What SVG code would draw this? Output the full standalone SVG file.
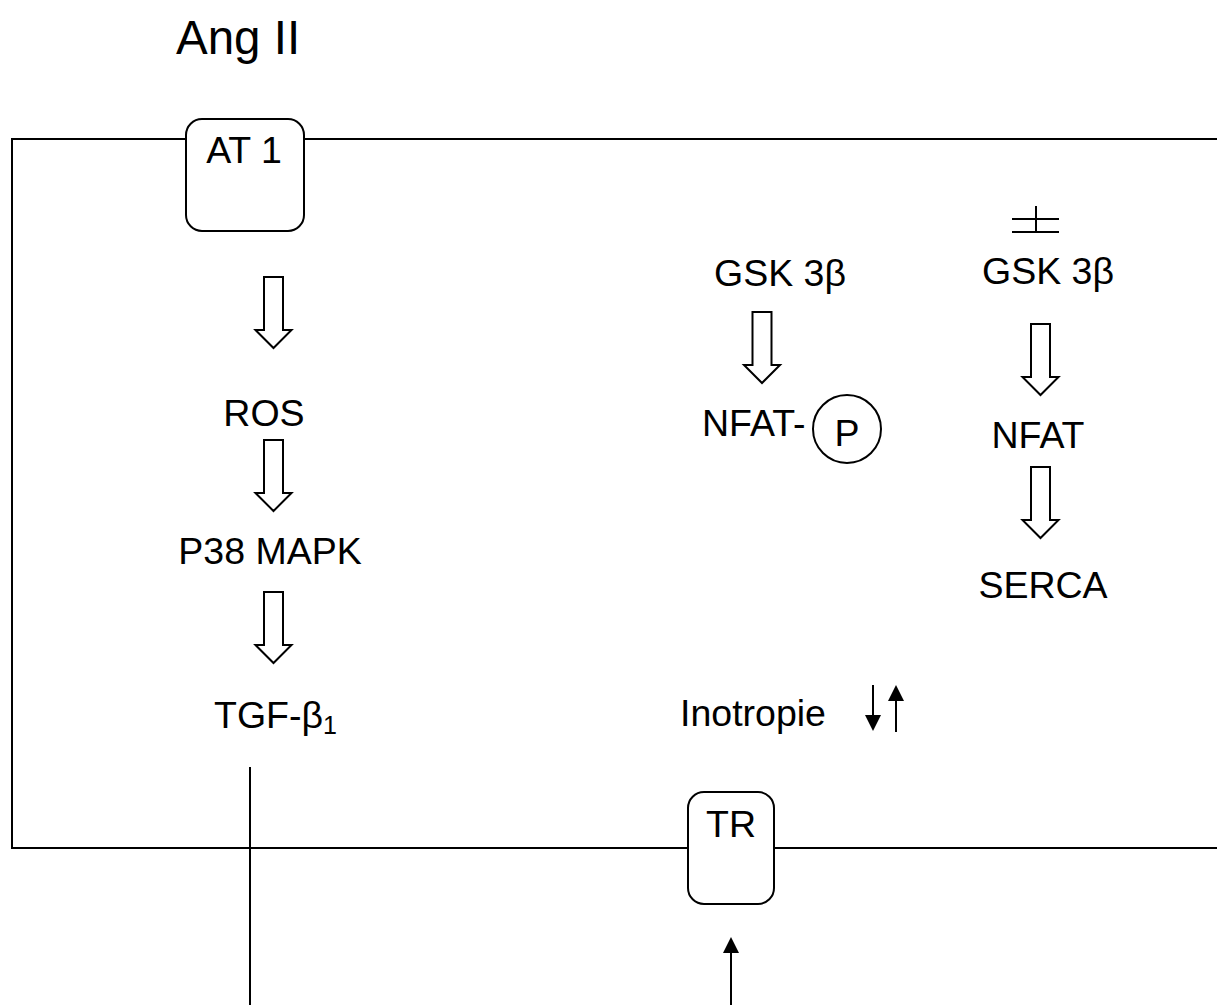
<svg xmlns="http://www.w3.org/2000/svg" xmlns:xlink="http://www.w3.org/1999/xlink" width="1217" height="1005" viewBox="0 0 1217 1005">
<style>
.t{font-family:"Liberation Sans",Arial,sans-serif;font-size:37.5px;fill:#000}
.ln{stroke:#000;stroke-width:2;fill:none}
.box{stroke:#000;stroke-width:2;fill:#fff}
.ba{stroke:#000;stroke-width:2;fill:#fff;stroke-linejoin:miter}
</style>
<defs>
<path id="blk" d="M-9.5,0 H9.5 V53 H18 L0,71 L-18,53 H-9.5 Z"/>
<marker id="ah" markerWidth="16" markerHeight="16" refX="8" refY="8" orient="auto" markerUnits="userSpaceOnUse">
<path d="M0,0 L16,8 L0,16 Z" fill="#000"/>
</marker>
</defs>
<rect width="1217" height="1005" fill="#fff"/>
<g id="cell">
<path class="ln" d="M1217,139 H12 V848 H1217"/>
</g>
<g id="connectors">
<use xlink:href="#blk" class="ba" transform="translate(273.5,277)"/>
<use xlink:href="#blk" class="ba" transform="translate(273.5,440)"/>
<use xlink:href="#blk" class="ba" transform="translate(273.5,592)"/>
<use xlink:href="#blk" class="ba" transform="translate(762,312)"/>
<use xlink:href="#blk" class="ba" transform="translate(1040.5,324)"/>
<use xlink:href="#blk" class="ba" transform="translate(1040.5,467)"/>
<line class="ln" x1="250" y1="767" x2="250" y2="1005"/>
<line class="ln" x1="731" y1="1005" x2="731" y2="945" marker-end="url(#ah)"/>
<line class="ln" x1="873" y1="685" x2="873" y2="723" marker-end="url(#ah)"/>
<line class="ln" x1="896" y1="732" x2="896" y2="693" marker-end="url(#ah)"/>
<g id="inhibit">
<line class="ln" x1="1036" y1="206" x2="1036" y2="232"/>
<line class="ln" x1="1012" y1="219" x2="1059" y2="219"/>
<line class="ln" x1="1012" y1="232" x2="1059" y2="232"/>
</g>
</g>
<g id="angII"><text class="t" x="176" y="54" style="font-size:47.5px">Ang II</text></g>
<g id="AT1">
<rect class="box" x="186" y="119" width="118" height="112" rx="16"/>
<text class="t" x="244" y="163" text-anchor="middle">AT 1</text>
</g>
<g id="TR">
<rect class="box" x="688" y="792" width="86" height="112" rx="16"/>
<text class="t" x="731" y="837" text-anchor="middle">TR</text>
</g>
<g id="ROS"><text class="t" x="264" y="426" text-anchor="middle">ROS</text></g>
<g id="P38"><text class="t" x="270" y="564" text-anchor="middle">P38 MAPK</text></g>
<g id="TGF"><text class="t" x="214" y="728">TGF-β<tspan style="font-size:25px" dy="6">1</tspan></text></g>
<g id="GSK1"><text class="t" x="714" y="286">GSK 3β</text></g>
<g id="GSK2"><text class="t" x="982" y="284">GSK 3β</text></g>
<g id="NFATP">
<text class="t" x="702" y="436">NFAT-</text>
<circle class="ln" cx="847" cy="429" r="34"/>
<text class="t" x="847" y="446" text-anchor="middle">P</text>
</g>
<g id="NFAT"><text class="t" x="1038" y="448" text-anchor="middle">NFAT</text></g>
<g id="SERCA"><text class="t" x="1043" y="598" text-anchor="middle">SERCA</text></g>
<g id="Inotropie"><text class="t" x="680" y="726">Inotropie</text></g>
</svg>
